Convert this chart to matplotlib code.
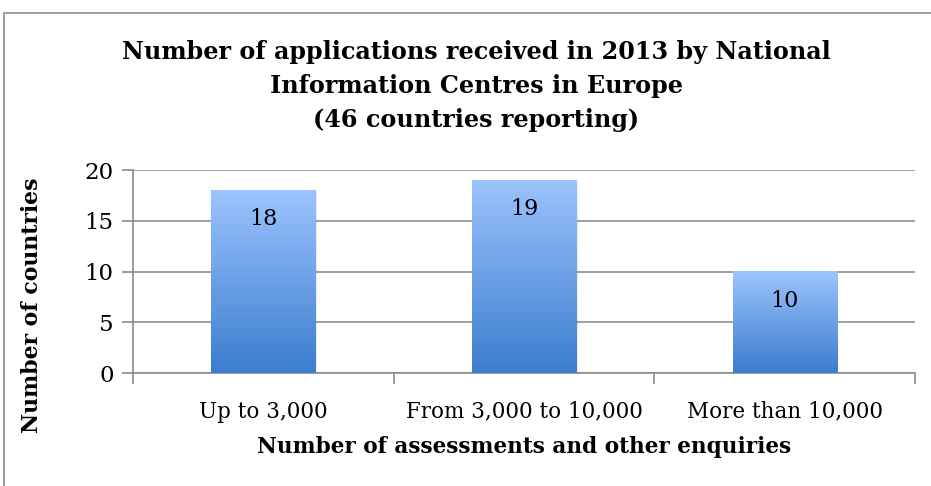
import matplotlib
matplotlib.use("Agg")
import matplotlib.pyplot as plt
import matplotlib.patches as patches
import numpy as np

# data
categories = ["Up to 3,000", "From 3,000 to 10,000", "More than 10,000"]
values = [18, 19, 10]
y_ticks = [0, 5, 10, 15, 20]

title = ("Number of applications received in 2013 by National\n"
         "Information Centres in Europe\n(46 countries reporting)")
xlabel = "Number of assessments and other enquiries"
ylabel = "Number of countries"

plt.rcParams['font.family'] = ['DejaVu Serif']

fig = plt.figure(figsize=(9.31, 4.86), dpi=100)
ax = fig.add_axes([133 / 931, 1 - 373 / 486, (915 - 133) / 931, (373 - 170) / 486])

# outer border of the chart area
fig.patches.append(patches.Rectangle((4 / 931, -0.1), 1.2, 1 - 13 / 486 + 0.1,
                                     transform=fig.transFigure, fill=False,
                                     edgecolor="#8c8c8c", linewidth=1.2))

# gradient bars
grad = np.linspace(0, 1, 256).reshape(-1, 1)
cmap = matplotlib.colors.LinearSegmentedColormap.from_list(
    "bar", ["#3b7dcf", "#9cc3fe"])
x = np.arange(len(categories))
width = 0.40
for xi, v in zip(x, values):
    # soft shadow
    ax.add_patch(patches.Rectangle((xi - width / 2 + 0.006, -0.15), width, v,
                                   facecolor="#000000", alpha=0.08,
                                   linewidth=0, zorder=2))
    ax.imshow(grad, extent=[xi - width / 2, xi + width / 2, 0, v],
              origin="lower", cmap=cmap, aspect="auto", zorder=3)
    ax.annotate(str(v), (xi, v), xytext=(0, -29), textcoords="offset pixels",
                ha="center", va="center", fontsize=16, zorder=4)

ax.set_xlim(-0.5, len(categories) - 0.5)
ax.set_ylim(0, 20)
ax.set_yticks(y_ticks)
ax.set_xticks(x)
ax.set_xticklabels(categories, fontsize=15.5)
ax.set_xticks(np.arange(len(categories) + 1) - 0.5, minor=True)
ax.tick_params(axis="x", which="major", length=0, pad=20)
ax.tick_params(axis="x", which="minor", length=8, color="#8c8c8c", width=1.2)
ax.tick_params(axis="y", length=8, color="#8c8c8c", width=1.2,
               labelsize=16.5, pad=6)
ax.yaxis.grid(True, color="#969696", linewidth=1.3, zorder=1)
ax.set_axisbelow(True)
for s in ["top", "right"]:
    ax.spines[s].set_visible(False)
for s in ["left", "bottom"]:
    ax.spines[s].set_color("#8c8c8c")
    ax.spines[s].set_linewidth(1.2)

ax.set_xlabel(xlabel, fontsize=15.6, fontweight="bold")
ax.xaxis.set_label_coords(0.5, (373 - 447) / 203)
ax.xaxis.label.set_va("center")
ax.set_ylabel(ylabel, fontsize=15.8, fontweight="bold")
ax.yaxis.set_label_coords((32 - 133) / 782, (373 - 305) / 203)
ax.yaxis.label.set_va("center")

fig.text(476 / 931, 1 - 86 / 486, title, ha="center", va="center",
         fontsize=17.2, fontweight="bold", linespacing=1.54)

fig.savefig("out.png", dpi=100)
